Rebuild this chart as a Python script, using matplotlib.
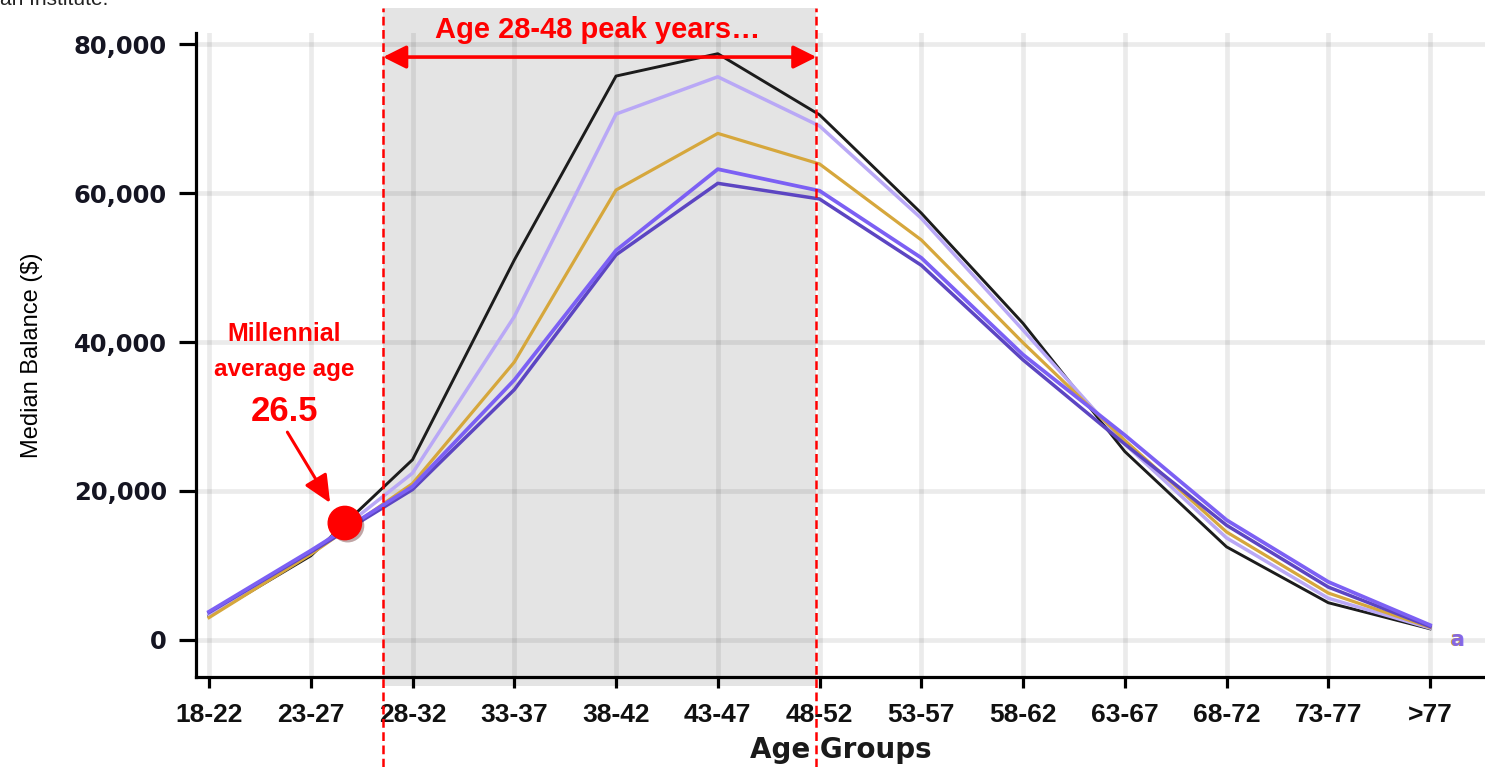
import matplotlib
matplotlib.use("Agg")
import matplotlib.pyplot as plt
from matplotlib.patches import Rectangle, FancyArrowPatch
from matplotlib import patheffects as pe
from matplotlib.ticker import FuncFormatter

# --- data -------------------------------------------------------------
age_groups = ["18-22", "23-27", "28-32", "33-37", "38-42", "43-47", "48-52",
              "53-57", "58-62", "63-67", "68-72", "73-77", ">77"]
yticks = [0, 20000, 40000, 60000, 80000]

series_black = [3200, 11300, 24200, 51000, 75700, 78700, 70500, 57300, 42500, 25300, 12500, 5000, 1500]
series_lavender = [3400, 11600, 22400, 43400, 70600, 75600, 69000, 56600, 41600, 26300, 13700, 5600, 1600]
series_gold = [3000, 11500, 21000, 37300, 60400, 68000, 63900, 53700, 39900, 26800, 14500, 6300, 1700]
series_violet = [3800, 12000, 20600, 34900, 52300, 63200, 60300, 51300, 38300, 27500, 16100, 7800, 2000]
series_indigo = [3700, 11800, 20200, 33600, 51700, 61300, 59200, 50300, 37600, 26300, 15400, 7100, 1800]

millennial_age = 26.5
millennial_balance = 15700
# peak band edges on the category axis (just left of 28-32 to the 48-52 tick)
band_left, band_right = 1.71, 5.97

# --- figure -----------------------------------------------------------
W, H = 1485, 767
fig = plt.figure(figsize=(W / 100, H / 100), dpi=100)
ax = fig.add_axes([196 / W, 90 / H, (W - 196) / W, (677 - 33) / H])

x = list(range(len(age_groups)))
ax.set_xlim(-0.128, 12.54)
ax.set_ylim(-4970, 81480)

# shaded peak band (extends above the plot area)
ax.add_patch(Rectangle((band_left, -6200), band_right - band_left, 84830 + 6200,
                       facecolor="#e4e4e4", edgecolor="none", zorder=0, clip_on=False))

# grid
ax.set_axisbelow(True)
ax.grid(True, color="black", alpha=0.08, linewidth=3.4)

# lines
ax.plot(x, series_black, color="#1c1c1c", lw=2.1, zorder=3)
ax.plot(x, series_lavender, color="#b9a8f6", lw=2.5, zorder=3)
ax.plot(x, series_gold, color="#d6a73c", lw=2.3, zorder=3)
ax.plot(x, series_indigo, color="#5c45c2", lw=2.5, zorder=3)
ax.plot(x, series_violet, color="#7c60f4", lw=2.7, zorder=3)

# dashed boundaries
for xv in (band_left, band_right):
    ax.plot([xv, xv], [-17100, 84830], color="#ff0000", lw=1.8,
            ls=(0, (3.5, 1.8)), zorder=5, clip_on=False)

# double-headed arrow over the band
ax.add_patch(FancyArrowPatch((band_left, 78250), (band_right, 78250),
                             arrowstyle="<|-|>,head_length=1.0,head_width=0.5",
                             mutation_scale=14, color="#ff0000", lw=2.6, zorder=6,
                             shrinkA=0, shrinkB=0, clip_on=False))
ax.text((band_left + band_right) / 2 - 0.02, 81900, "Age 28-48 peak years…", color="#ff0000",
        fontsize=21, fontweight="bold", family="Liberation Sans", ha="center", va="center",
        zorder=7)

# millennial marker
mx = (millennial_age - 20) / 5.0 + 0.035
ax.plot([mx], [millennial_balance], "o", color="#ff0000", ms=24, zorder=8,
        path_effects=[pe.SimplePatchShadow(offset=(2, -2), alpha=0.35), pe.Normal()])
ax.add_patch(FancyArrowPatch((0.77, 27900), (1.19, 18400),
                             arrowstyle="-|>,head_length=1.2,head_width=0.55",
                             mutation_scale=14, color="#ff0000", lw=2.2, zorder=8,
                             shrinkA=0, shrinkB=0))
ax.text(0.74, 41050, "Millennial", color="#ff0000", fontsize=18, fontweight="bold",
        family="Liberation Sans", ha="center", va="center", zorder=8)
ax.text(0.74, 36250, "average age", color="#ff0000", fontsize=17.5, fontweight="bold",
        family="Liberation Sans", ha="center", va="center", zorder=8)
ax.text(0.74, 30700, f"{millennial_age}", color="#ff0000", fontsize=25, fontweight="bold",
        family="Liberation Sans", ha="center", va="center", zorder=8)

# axes styling
for side in ("top", "right"):
    ax.spines[side].set_visible(False)
for side in ("left", "bottom"):
    ax.spines[side].set_linewidth(2.3)
    ax.spines[side].set_color("black")
    ax.spines[side].set_zorder(6)

ax.set_xticks(x)
ax.set_xticklabels(age_groups, fontsize=19, family="Liberation Sans", fontweight="bold",
                   color="#111111")
ax.set_yticks(yticks)
ax.yaxis.set_major_formatter(FuncFormatter(lambda v, p: f"{int(v):,}"))
for lab in ax.get_yticklabels():
    lab.set_fontsize(17.5)
    lab.set_fontweight("bold")
    lab.set_family("DejaVu Sans")
    lab.set_color("#151522")
ax.tick_params(axis="y", length=12, width=2.3, pad=9)
ax.tick_params(axis="x", length=8, width=2.3, pad=11)

ax.set_xlabel("Age Groups", fontsize=20, fontweight="bold", family="DejaVu Sans",
              color="#1a1a1a", labelpad=6)
ax.set_ylabel("Median Balance ($)", fontsize=17, family="Liberation Sans", color="#000000",
              labelpad=22)

# legend remnant at the right edge
ax.text(12.26, 0, "a", color="#d6a73c", fontsize=15, fontweight="bold", ha="center",
        va="center", zorder=4)
ax.text(12.265, 0, "a", color="#7c60f4", fontsize=15, fontweight="bold", ha="center",
        va="center", zorder=4, alpha=0.9)

# source line at the top
fig.text(0.0, 1 - 5 / H, "an Institute.", fontsize=15, family="Liberation Sans",
         ha="left", va="baseline", color="#222222")

fig.savefig("out.png", dpi=100)
